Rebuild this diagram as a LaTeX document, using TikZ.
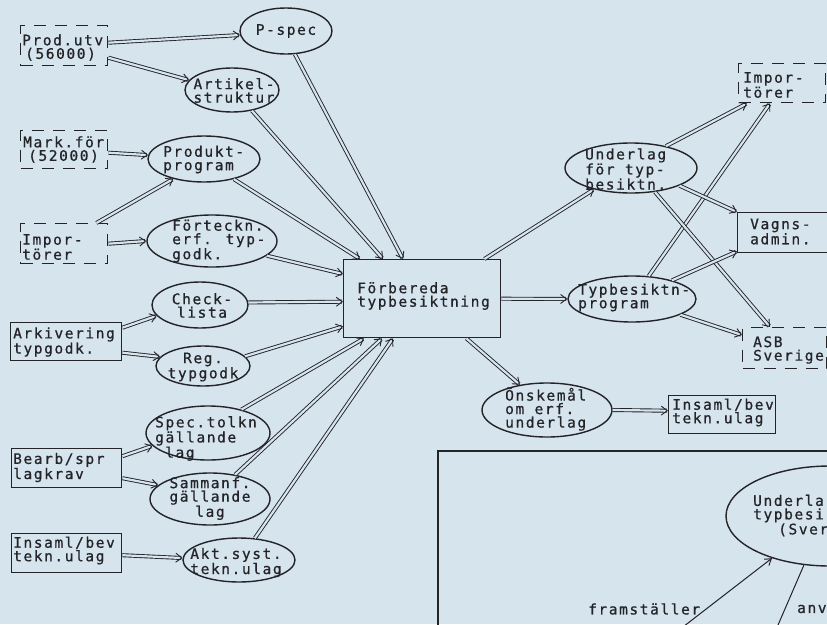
\documentclass[tikz,border=0pt]{standalone}
\usepackage{fontspec}
\newfontfamily\plotfont[LetterSpace=11,FakeBold=0.7]{DejaVu Sans Mono}
\usetikzlibrary{arrows.meta,calc,shapes.geometric}
\definecolor{bgc}{RGB}{214,228,238}
\definecolor{ink}{RGB}{35,35,40}
\begin{document}
\begin{tikzpicture}[x=1pt,y=-1pt,
  ell/.style={draw=ink, line width=1.4pt, ellipse, inner sep=0pt},
  box/.style={draw=ink, line width=1.4pt, rectangle, inner sep=0pt, anchor=north west},
  dbox/.style={box, dash pattern=on 12pt off 9pt},
  txt/.style={font=\plotfont\fontsize{14.5pt}{13.5pt}\selectfont, inner sep=0pt, text=ink, align=left},
  ctxt/.style={txt, align=center},
  dbl/.style={draw=ink, double=bgc, line width=0.9pt, double distance=2.2pt, -{Straight Barb[length=6pt,width=9pt]}},
  sgl/.style={draw=ink, line width=1pt},
  frame/.style={draw=ink, line width=1.5pt},
]
\useasboundingbox (0,0) rectangle (827,624);
\fill[bgc] (0,0) rectangle (827,624);
\clip (0,0) rectangle (827,624);

% left boxes
\node[dbox, minimum width=87, minimum height=40] (prod) at (20,25) {};
\node[dbox, minimum width=87, minimum height=38] (mark) at (20,130) {};
\node[dbox, minimum width=87, minimum height=40] (imp) at (20,223) {};
\node[box, minimum width=111, minimum height=38] (ark) at (10,322) {};
\node[box, minimum width=110, minimum height=39] (bearb) at (11,448) {};
\node[box, minimum width=110, minimum height=39] (insam) at (11,533) {};

\node[txt, anchor=west] (prodt) at (22,47.5) {Prod.utv\\\hspace*{3pt}(56000)};
\node[txt, anchor=west] (markt) at (23,149.5) {Mark.för\\\hspace*{5pt}(52000)};
\node[txt, anchor=west] (impt) at (22,247) {Impor-\\törer};
\node[txt, anchor=west] (arkt) at (13,342) {Arkivering\\typgodk.};
\node[txt, anchor=west] (bearbt) at (13,467.5) {Bearb/spr\\lagkrav};
\node[txt, anchor=west] (insamt) at (13,550.5) {Insaml/bev\\tekn.ulag};

% middle ellipses
\node[ell, minimum width=92, minimum height=46] (pspec) at (286,31) {};
\node[ell, minimum width=94, minimum height=44] (artikel) at (232,90) {};
\node[ell, minimum width=112, minimum height=46] (produkt) at (204,159) {};
\node[ell, minimum width=130, minimum height=52] (forteckn) at (212,241) {};
\node[ell, minimum width=96, minimum height=46] (check) at (200,305) {};
\node[ell, minimum width=94, minimum height=40] (reg) at (203,366) {};
\node[ell, minimum width=124, minimum height=54] (spec) at (208,433) {};
\node[ell, minimum width=120, minimum height=52] (samman) at (210,499) {};
\node[ell, minimum width=112, minimum height=44] (akt) at (239,560) {};

\node[ctxt] (pspect) at (286,31) {P-spec};
\node[ctxt] (artt) at (234,90.5) {Artikel-\\struktur};
\node[txt, anchor=west] (prodgt) at (163,159.5) {Produkt-\\program};
\node[txt, anchor=west] (fortt) at (172,241) {Förteckn.\\erf. typ-\\godk.};
\node[ctxt] (checkt) at (202,305.5) {Check-\\lista};
\node[ctxt] (regt) at (203,367) {Reg.\\typgodk};
\node[txt, anchor=west] (spect) at (155,438.5) {Spec.tolkn\\gällande\\\hspace*{10pt}lag};
\node[ctxt] (sammt) at (210,498.5) {Sammanf.\\gällande\\lag};
\node[ctxt] (aktt) at (236,562.5) {Akt.syst.\\tekn.ulag};

% central box
\node[box, minimum width=157, minimum height=78] (forb) at (343,259) {};
\node[txt, anchor=west] (forbt) at (357,296) {Förbereda\\typbesiktning};

% right side
\node[ell, minimum width=132, minimum height=50] (under) at (631,168) {};
\node[ell, minimum width=128, minimum height=46] (typprog) at (632,299) {};
\node[ell, minimum width=130, minimum height=54] (onske) at (547,410) {};
\node[dbox, minimum width=87, minimum height=39] (impR) at (738,63) {};
\node[box, minimum width=150, minimum height=40] (vagns) at (737,212) {};
\node[dbox, minimum width=84, minimum height=41] (asb) at (742,327) {};
\node[box, minimum width=107, minimum height=38] (insamR) at (668,395) {};

\node[txt, anchor=west] (undt) at (585,169) {Underlag\\för typ-\\besiktn.};
\node[txt, anchor=west] (typt) at (578,297.5) {Typbesiktn-\\program};
\node[txt, anchor=west] (onsket) at (505,409) {Önskemål\\om erf.\\underlag};
\node[txt, anchor=west] (impRt) at (743,85) {Impor-\\törer};
\node[txt, anchor=west] (vagt) at (750,231.5) {Vagns-\\admin.};
\node[txt, anchor=west] (asbt) at (753,350) {ASB\\Sverige};
\node[txt, anchor=west] (insamRt) at (672,412.5) {Insaml/bev\\tekn.ulag};

% connectors, left
\draw[dbl] ($(prod.east)+(0,-3)$) -- (pspec.185);
\draw[dbl] ($(prod.east)+(0,12)$) -- (artikel.167);
\draw[dbl] ($(mark.east)+(0,3)$) -- (produkt.176);
\draw[dbl] ($(imp.north east)+(-12,0)$) -- (produkt.213);
\draw[dbl] (imp.east) -- (forteckn.180);
\draw[dbl] ($(ark.east)+(0,-14)$) -- (check.194);
\draw[dbl] ($(ark.east)+(0,11)$) -- (reg.168);
\draw[dbl] ($(bearb.east)+(0,-12)$) -- (spec.193);
\draw[dbl] ($(bearb.east)+(0,10)$) -- (samman.165);
\draw[dbl] ($(insam.east)+(0,2)$) -- (akt.178);
% into central box
\draw[dbl] (pspec.291) -- ($(forb.north west)+(60,0)$);
\draw[dbl] (artikel.314) -- ($(forb.north west)+(40,0)$);
\draw[dbl] (produkt.326) -- ($(forb.north west)+(17,0)$);
\draw[dbl] (forteckn.345) -- ($(forb.north west)+(0,15)$);
\draw[dbl] (check.3) -- ($(forb.west)+(0,3)$);
\draw[dbl] (reg.13) -- ($(forb.south west)+(0,-12)$);
\draw[dbl] (spec.35) -- ($(forb.south west)+(21,0)$);
\draw[dbl] (samman.44) -- ($(forb.south west)+(39,0)$);
\draw[dbl] (akt.54) -- ($(forb.south west)+(50,0)$);
% out of central box
\draw[dbl] ($(forb.north east)+(-17,0)$) -- (under.210);
\draw[dbl] (forb.east) -- (typprog.180);
\draw[dbl] ($(forb.south east)+(-35,0)$) -- (onske.137);
\draw[dbl] (onske.0) -- ($(insamR.west)+(0,-4)$);
\draw[dbl] (under.32) -- ($(impR.south west)+(9,0)$);
\draw[dbl] (typprog.54) -- ($(impR.south west)+(32,0)$);
\draw[dbl] (under.340) -- (vagns.north west);
\draw[dbl] (under.315) -- ($(asb.north west)+(28,0)$);
\draw[dbl] (typprog.25) -- ($(vagns.south west)+(0,-2)$);
\draw[dbl] (typprog.342) -- ($(asb.north west)+(0,8)$);

% lower right frame
\draw[frame] (438,640) -- (438,451) -- (850,451);
\node[ell, minimum width=208, minimum height=100] (bigell) at (830,516) {};
\node[txt, anchor=west] (bigt) at (753,515.5) {Underla\\typbesi\\\hspace*{25pt}(Sver};
\coordinate (fsend) at (679,630);
\coordinate (anvend) at (775,632);
\draw[sgl, -{Straight Barb[length=6pt,width=8pt]}] (fsend) -- (bigell.216);
\draw[sgl] (bigell.242) -- (anvend);
\node[txt, anchor=west] (fst) at (588,609) {framställer};
\node[txt, anchor=west] (anvt) at (797,609) {anv};
\end{tikzpicture}
\end{document}
